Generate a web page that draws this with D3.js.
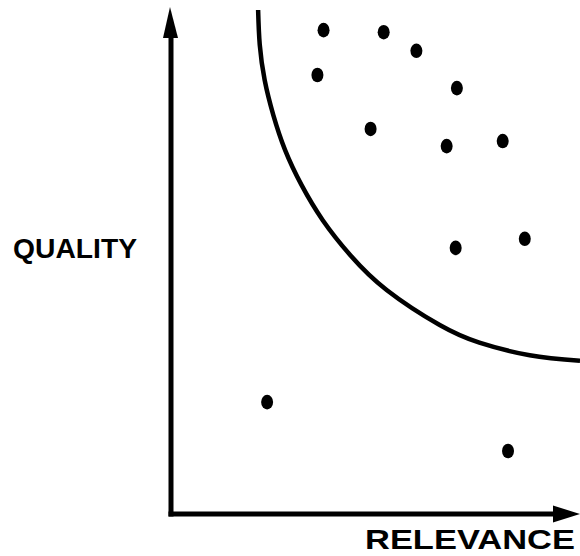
<!DOCTYPE html>
<html>
<head>
<meta charset="utf-8">
<script src="https://cdn.jsdelivr.net/npm/d3@7"></script>
<style>
  html, body { margin: 0; padding: 0; background: #fff; }
  svg { display: block; }
</style>
</head>
<body>
<svg id="chart" width="580" height="556"></svg>
<script>
// ---- data (arbitrary 0-100 units) ----
const pointX = [37.3, 52.0, 60.0, 35.8, 69.9, 48.8, 67.4, 81.1, 69.6, 86.5, 23.5, 82.4];
const pointY = [96.0, 95.6, 91.9, 87.1, 84.5, 76.4, 73.0, 74.0, 52.8, 54.6, 22.2, 12.5];
const curveX = [21.3, 21.7, 22.9, 25.0, 27.9, 31.9, 37.1, 43.8, 52.8, 65.7, 75.4, 87.7, 100];
const curveY = [100, 93.1, 86.1, 79.2, 72.2, 65.3, 58.3, 51.4, 44.4, 37.5, 34.0, 31.5, 30.4];
const xLabel = "RELEVANCE";
const yLabel = "QUALITY";

const svg = d3.select("#chart");
const x = d3.scaleLinear().domain([0, 100]).range([171, 580]);
const y = d3.scaleLinear().domain([0, 100]).range([514, 10]);

// axes (no ticks)
const xAxis = svg.append("g").attr("transform", `translate(0,${y(0)})`)
  .call(d3.axisBottom(x).tickValues([]).tickSizeOuter(0));
xAxis.select(".domain").attr("stroke", "#000").attr("stroke-width", 5)
  .attr("d", `M${x(0) - 2.5},0H${x(100) - 20}`);
const yAxis = svg.append("g").attr("transform", `translate(${x(0)},0)`)
  .call(d3.axisLeft(y).tickValues([]).tickSizeOuter(0));
yAxis.select(".domain").attr("stroke", "#000").attr("stroke-width", 5)
  .attr("d", `M0,${y(0) + 2.5}V${y(100) + 20}`);

// arrowheads
svg.append("path")
  .attr("d", `M${x(0) - 8},${y(100) + 28}L${x(0) - 1},${y(100) - 3}L${x(0) + 7},${y(100) + 28}Z`)
  .attr("fill", "#000");
svg.append("path")
  .attr("d", `M${x(100) - 27},${y(0) - 8.5}L${x(100)},${y(0)}L${x(100) - 27},${y(0) + 8.5}Z`)
  .attr("fill", "#000");

// boundary curve
const curveData = curveX.map((d, i) => [d, curveY[i]]);
svg.append("path")
  .datum(curveData)
  .attr("fill", "none")
  .attr("stroke", "#000")
  .attr("stroke-width", 4.5)
  .attr("d", d3.line().x(d => x(d[0])).y(d => y(d[1])).curve(d3.curveNatural));

// points
const pts = pointX.map((d, i) => [d, pointY[i]]);
svg.append("g").selectAll("ellipse").data(pts).join("ellipse")
  .attr("cx", d => x(d[0]))
  .attr("cy", d => y(d[1]))
  .attr("rx", 6)
  .attr("ry", 7.3)
  .attr("fill", "#000");

// labels
svg.append("text")
  .attr("x", 13).attr("y", 258)
  .attr("font-family", "Liberation Sans, Arial, sans-serif")
  .attr("font-weight", "bold")
  .attr("font-size", 28)
  .attr("textLength", 124)
  .attr("lengthAdjust", "spacingAndGlyphs")
  .attr("fill", "#000")
  .text(yLabel);
svg.append("text")
  .attr("x", 365).attr("y", 549)
  .attr("font-family", "Liberation Sans, Arial, sans-serif")
  .attr("font-weight", "bold")
  .attr("font-size", 28)
  .attr("textLength", 210)
  .attr("lengthAdjust", "spacingAndGlyphs")
  .attr("fill", "#000")
  .text(xLabel);
</script>
</body>
</html>
